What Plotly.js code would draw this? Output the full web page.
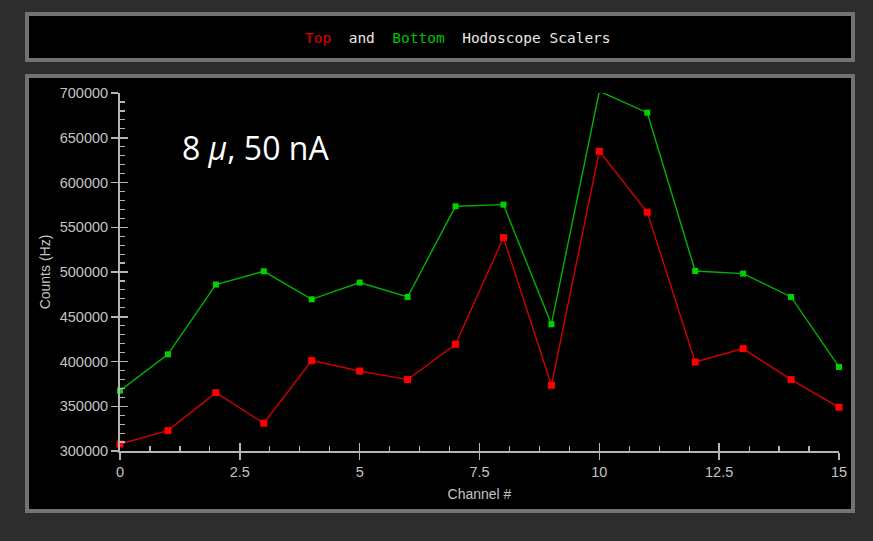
<!DOCTYPE html>
<html>
<head>
<meta charset="utf-8">
<script src="https://cdn.plot.ly/plotly-3.0.1.min.js"></script>
<style>html,body{margin:0;padding:0;background:#2d2d2d;}#chart{width:873px;height:541px;}</style>
</head>
<body>
<div id="chart"></div>
<script>
// Data
const channels = [0,1,2,3,4,5,6,7,8,9,10,11,12,13,14,15];
const topCounts = [307800,322800,365200,331000,401000,389400,379800,419200,538400,373400,634900,566800,399400,414400,379800,348800];
const bottomCounts = [367500,408000,486000,500800,469500,488200,472100,573400,575300,441600,702000,678000,501100,498200,472100,393900];
const xTickVals = [0,2.5,5,7.5,10,12.5,15];
const xTickText = ['0','2.5','5','7.5','10','12.5','15'];
const yTickVals = [300000,350000,400000,450000,500000,550000,600000,650000,700000];
const yTickText = yTickVals.map(v => String(v));

// Pixel -> paper helpers for panel decorations
const L = 120, R = 34, T = 93, B = 90, W = 873, H = 541;
const pw = W - L - R, ph = H - T - B;
const px = p => (p - L) / pw;
const py = p => (H - B - p) / ph;

const axisCol = '#b4b4b4';
const labelCol = '#c4c4c4';
const tickFont = {family: 'Liberation Sans, Arial, sans-serif', size: 14.5, color: labelCol};

const traces = [
  {x: channels, y: bottomCounts, type: 'scatter', mode: 'lines+markers', name: 'Bottom',
   line: {color: '#00b400', width: 1.4}, marker: {symbol: 'square', size: 6, color: '#00d200'}, cliponaxis: false},
  {x: channels, y: topCounts, type: 'scatter', mode: 'lines+markers', name: 'Top',
   line: {color: '#d00000', width: 1.4}, marker: {symbol: 'square', size: 7, color: '#ff0000'}, cliponaxis: false},
  {x: [], y: [], xaxis: 'x2', yaxis: 'y2', showlegend: false, hoverinfo: 'skip', type: 'scatter'}
];

const layout = {
  width: W, height: H,
  margin: {l: L, r: R, t: T, b: B, pad: 0},
  paper_bgcolor: '#2d2d2d',
  plot_bgcolor: 'rgba(0,0,0,0)',
  showlegend: false,
  xaxis: {
    range: [0, 15], tickvals: xTickVals, ticktext: xTickText,
    ticks: 'outside', ticklen: 7, tickwidth: 1.5, tickcolor: axisCol,
    showline: true, linecolor: axisCol, linewidth: 2,
    showgrid: false, zeroline: false, tickfont: tickFont,
    title: {text: 'Channel #', font: {family: 'Liberation Sans, Arial, sans-serif', size: 14, color: labelCol}, standoff: 10}
  },
  yaxis: {
    range: [300000, 700000], tickvals: yTickVals, ticktext: yTickText,
    ticks: 'outside', ticklen: 7, tickwidth: 1.5, tickcolor: axisCol,
    showline: true, linecolor: axisCol, linewidth: 2,
    showgrid: false, zeroline: false, tickfont: tickFont,
    title: {text: 'Counts (Hz)', font: {family: 'Liberation Sans, Arial, sans-serif', size: 14, color: labelCol}, standoff: 6}
  },
  xaxis2: {
    overlaying: 'x', anchor: 'y', side: 'bottom', range: [0, 15], tickvals: xTickVals,
    showticklabels: false, ticks: 'inside', ticklen: 8, tickwidth: 1.5, tickcolor: axisCol,
    showline: false, showgrid: false, zeroline: false,
    minor: {dtick: 0.625, tick0: 0, ticks: 'inside', ticklen: 5, tickwidth: 1.2, tickcolor: axisCol, showgrid: false}
  },
  yaxis2: {
    overlaying: 'y', anchor: 'x', side: 'left', range: [300000, 700000], tickvals: yTickVals,
    showticklabels: false, ticks: 'inside', ticklen: 8, tickwidth: 1.5, tickcolor: axisCol,
    showline: false, showgrid: false, zeroline: false,
    minor: {dtick: 10000, tick0: 300000, ticks: 'inside', ticklen: 5, tickwidth: 1.2, tickcolor: axisCol, showgrid: false}
  },
  shapes: [
    {type: 'rect', xref: 'paper', yref: 'paper', layer: 'below',
     x0: px(27), x1: px(853), y0: py(14), y1: py(60),
     fillcolor: '#000000', line: {color: '#737373', width: 4}},
    {type: 'rect', xref: 'paper', yref: 'paper', layer: 'below',
     x0: px(27), x1: px(853), y0: py(76), y1: py(511),
     fillcolor: '#000000', line: {color: '#737373', width: 4}}
  ],
  annotations: [
    {xref: 'paper', yref: 'paper', x: px(458), y: py(38), xanchor: 'center', yanchor: 'middle', showarrow: false,
     text: '<span style="color:#e00000">Top</span>\u00a0\u00a0and\u00a0\u00a0<span style="color:#00c000">Bottom</span>\u00a0\u00a0Hodoscope\u00a0Scalers',
     font: {family: 'DejaVu Sans Mono, Liberation Mono, monospace', size: 14.5, color: '#e8e8e8'}},
    {xref: 'paper', yref: 'paper', x: px(180), y: py(147), xanchor: 'left', yanchor: 'middle', showarrow: false,
     text: '8 <i>μ</i>, 50 nA',
     font: {family: 'Open Sans, sans-serif', size: 32, color: '#ffffff'}}
  ]
};

Plotly.newPlot('chart', traces, layout, {displayModeBar: false, staticPlot: true});
</script>
</body>
</html>
